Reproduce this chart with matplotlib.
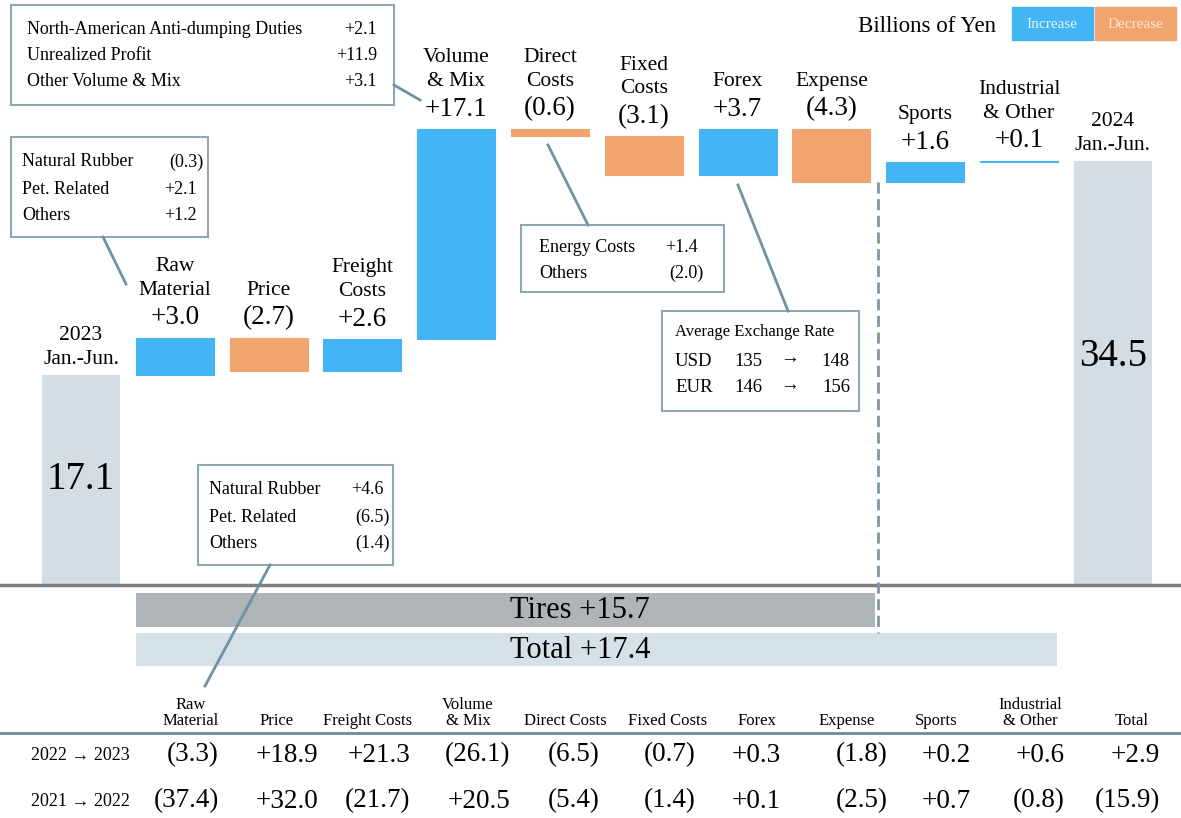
import matplotlib
matplotlib.use("Agg")
import matplotlib.pyplot as plt
from matplotlib.patches import Rectangle
import numpy as np

plt.rcParams['font.family'] = ['Liberation Serif', 'DejaVu Serif']

# ---- data ----
start_value = 17.1
end_value = 34.5
start_label = "2023\nJan.-Jun."
end_label = "2024\nJan.-Jun."
step_labels = ["Raw\nMaterial", "Price", "Freight\nCosts", "Volume\n& Mix", "Direct\nCosts",
               "Fixed\nCosts", "Forex", "Expense", "Sports", "Industrial\n& Other"]
step_values = [3.0, -2.7, 2.6, 17.1, -0.6, -3.1, 3.7, -4.3, 1.6, 0.1]

tires_total = 15.7
grand_total = 17.4

table_cols = ["Raw\nMaterial", "Price", "Freight Costs", "Volume\n& Mix", "Direct Costs",
              "Fixed Costs", "Forex", "Expense", "Sports", "Industrial\n& Other", "Total"]
row_labels = ["2022 \u2192 2023", "2021 \u2192 2022"]
row_2023 = [-3.3, 18.9, 21.3, -26.1, -6.5, -0.7, 0.3, -1.8, 0.2, 0.6, 2.9]
row_2022 = [-37.4, 32.0, -21.7, 20.5, -5.4, -1.4, 0.1, -2.5, 0.7, -0.8, -15.9]

vol_items = ["North-American Anti-dumping Duties", "Unrealized Profit", "Other Volume & Mix"]
vol_values = [2.1, 11.9, 3.1]
raw_items = ["Natural Rubber", "Pet. Related", "Others"]
raw_values = [-0.3, 2.1, 1.2]
raw_prev_items = ["Natural Rubber", "Pet. Related", "Others"]
raw_prev_values = [4.6, -6.5, -1.4]
direct_items = ["Energy Costs", "Others"]
direct_values = [1.4, -2.0]
fx_rows = [("USD", 135, 148), ("EUR", 146, 156)]

INC = '#44B5F4'
DEC = '#F1A46E'
ENDS = '#D3DDE3'
TIRES = '#AEB4B8'
TOTAL = '#D4E1E7'
LINE = '#6F92A4'
BOXEDGE = '#8FA7B2'


def fmt(v):
    return f"+{v:.1f}" if v >= 0 else f"({-v:.1f})"


W, H = 1181, 818
fig = plt.figure(figsize=(W / 100, H / 100), dpi=100)

# main axes: x = category index, y = billions of yen
ax = fig.add_axes([0, 0, 1, 1])
px_x, x0 = 93.8, 81
px_y, base = 12.29, 585
ax.set_xlim(-x0 / px_x, (W - x0) / px_x)
ax.set_ylim(-(H - base) / px_y, base / px_y)
ax.axis('off')

n = len(step_values)
cum = start_value + np.concatenate([[0], np.cumsum(step_values)])
bottoms = np.minimum(cum[:-1], cum[1:])
heights = np.abs(step_values)
colors = [INC if v >= 0 else DEC for v in step_values]
xs = np.arange(1, n + 1)
bw = 0.83

ax.bar([0, n + 1], [start_value, end_value], width=bw, color=ENDS, zorder=2)
ax.bar(xs, heights, bottom=bottoms, width=bw, color=colors, edgecolor=colors, lw=0.8, zorder=2)
ax.axhline(0, color='#7F7F7F', lw=2.5, zorder=3)

tops = np.maximum(cum[:-1], cum[1:])
for x, t, lab, v in zip(xs, tops, step_labels, step_values):
    ax.annotate(fmt(v), (x, t), xytext=(0, 20), textcoords='offset pixels',
                ha='center', va='center', fontsize=19.5, zorder=5)
    ax.annotate(lab, (x, t), xytext=(0, 38), textcoords='offset pixels',
                ha='center', va='bottom', fontsize=15.5, linespacing=1.35, zorder=5)

for x, t, lab in [(0, start_value, start_label), (n + 1, end_value, end_label)]:
    ax.annotate(lab, (x, t), xytext=(0, 6), textcoords='offset pixels',
                ha='center', va='bottom', fontsize=15.5, linespacing=1.35, zorder=5)
ax.text(0, start_value * 0.5, f"{start_value:.1f}", ha='center', va='center', fontsize=28, zorder=5)
ax.text(n + 1, end_value * 0.538, f"{end_value:.1f}", ha='center', va='center', fontsize=28, zorder=5)

# tires / total bars
split = 8.5
ax.barh(-2.03, split - 0.03 - (1 - bw / 2), left=1 - bw / 2, height=2.77, color=TIRES, zorder=2)
ax.barh(-5.25, 10.4 - (1 - bw / 2), left=1 - bw / 2, height=2.69, color=TOTAL, zorder=2)
ax.plot([split, split], [cum[8], -3.9], ls=(0, (4, 2)), color='#7D97A6', lw=2, zorder=3)

# overlay axes in pixel coordinates for annotations
ov = fig.add_axes([0, 0, 1, 1], zorder=10)
ov.set_xlim(0, W)
ov.set_ylim(H, 0)
ov.axis('off')
ov.patch.set_alpha(0)

ov.text(580, 611, f"Tires {fmt(tires_total)}", ha='center', va='center', fontsize=22)
ov.text(580, 651, f"Total {fmt(grand_total)}", ha='center', va='center', fontsize=22)

# legend
ov.text(927, 27, "Billions of Yen", ha='center', va='center', fontsize=16.5)
ov.add_patch(Rectangle((1012, 7), 81, 33, color=INC))
ov.add_patch(Rectangle((1095, 7), 81, 33, color=DEC))
ov.text(1052, 24, "Increase", ha='center', va='center', fontsize=11, color='#EAF6FF')
ov.text(1135, 24, "Decrease", ha='center', va='center', fontsize=11, color='#FCE6D6')


def breakdown(box, items, values, lx, vx, ys, fs=13):
    x1, y1, x2, y2 = box
    ov.add_patch(Rectangle((x1, y1), x2 - x1, y2 - y1, facecolor='white',
                           edgecolor=BOXEDGE, lw=1.5))
    for it, v, y in zip(items, values, ys):
        ov.text(lx, y, it, ha='left', va='center', fontsize=fs)
        ov.text(vx + (6 if v < 0 else 0), y, fmt(v), ha='right', va='center', fontsize=fs)


breakdown((11, 5, 394, 105), vol_items, vol_values, 27, 377, [29, 56, 82])
ov.plot([394, 420], [85, 100], color=LINE, lw=2)

breakdown((11, 137, 208, 237), raw_items, raw_values, 22, 197, [162, 189, 216])
ov.plot([103, 126], [237, 284], color=LINE, lw=2)

breakdown((198, 465, 393, 565), raw_prev_items, raw_prev_values, 209, 384, [490, 517, 543])
ov.plot([270, 205], [565, 686], color=LINE, lw=2)

breakdown((521, 225, 724, 292), direct_items, direct_values, 539, 698, [247, 273])
ov.plot([548, 588], [145, 225], color=LINE, lw=2)

ov.add_patch(Rectangle((662, 311), 197, 100, facecolor='white', edgecolor=BOXEDGE, lw=1.5))
ov.text(675, 332, "Average Exchange Rate", ha='left', va='center', fontsize=12)
for (cur, a, b), y in zip(fx_rows, [361, 388]):
    ov.text(675, y, cur, ha='left', va='center', fontsize=13.5)
    ov.text(748, y, str(a), ha='center', va='center', fontsize=13.5)
    ov.text(789, y - 2, "\u2192", ha='center', va='center', fontsize=13.5)
    ov.text(850, y, str(b), ha='right', va='center', fontsize=13.5)
ov.plot([738, 788], [185, 311], color=LINE, lw=2)

# bottom table
col_x = [191, 277, 368, 468, 565, 668, 757, 847, 936, 1030, 1132]
val_right = [219, 318, 410, 510, 600, 696, 781, 888, 971, 1065, 1160]
for cx, lab in zip(col_x, table_cols):
    ov.text(cx, 729, lab, ha='center', va='bottom', fontsize=12, linespacing=1.0)
ov.plot([0, W], [733, 733], color='#6D8A99', lw=2)
for lab, row, y in zip(row_labels, [row_2023, row_2022], [755, 801]):
    ov.text(80, y, lab, ha='center', va='center', fontsize=13)
    for rx, v in zip(val_right, row):
        ov.text(rx, y, fmt(v), ha='right', va='center', fontsize=19.5)

fig.savefig("out.png", dpi=100, facecolor='white')
